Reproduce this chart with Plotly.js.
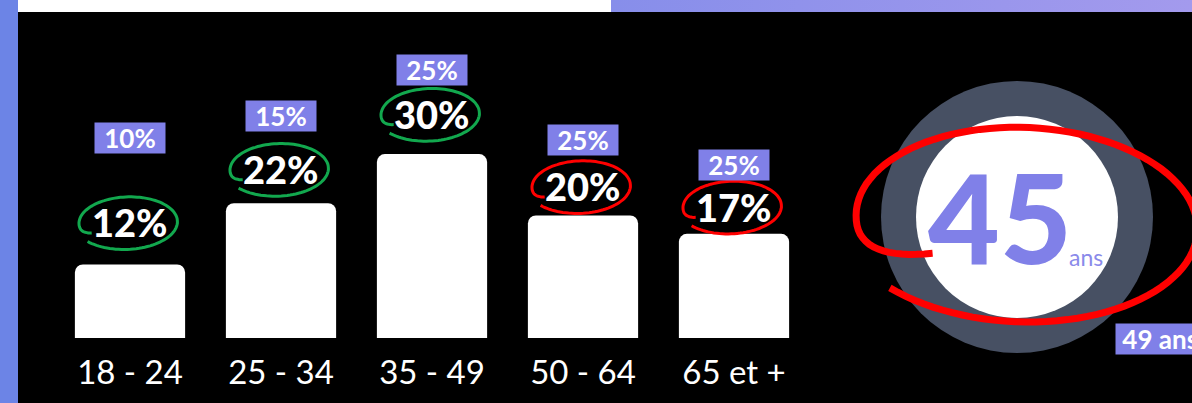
<!DOCTYPE html>
<html>
<head>
<meta charset="utf-8">
<script src="https://cdn.plot.ly/plotly-3.0.1.min.js"></script>
<style>
  html, body { margin: 0; padding: 0; background: #000; }
  #chart { width: 1192px; height: 403px; }
</style>
</head>
<body>
<div id="chart"></div>
<script>
// ---- data ----
const categories = ['18 - 24', '25 - 34', '35 - 49', '50 - 64', '65 et +'];
const shares = [12, 22, 30, 20, 17];          // % of audience
const benchmark = [10, 15, 25, 25, 25];       // reference %
const averageAge = 45;
const benchmarkAge = 49;
const ageUnit = 'ans';

// ---- styling / layout helpers ----
const W = 1192, H = 403;
const labelLift = [42, 34, 40, 29, 27];       // px above bar top for value label
const boxLift = [126, 87, 84, 75, 69];        // px above bar top for benchmark box
const PURPLE = '#8080e8';
const GREEN = '#12a84e';
const RED = '#ff0000';
const FONT = 'Lato, "Open Sans", sans-serif';

function px2x(p) { return p / W; }
function px2y(p) { return 1 - p / H; }

// hand-drawn looking loop (pixel offsets, y up)
function loopPath(o) {
  const N = 110, pts = [];
  const rot = o.rot * Math.PI / 180;
  for (let i = 0; i <= N; i++) {
    const td = o.t0 + (o.t2 - o.t0) * i / N;
    const fMain = Math.min(1, (td - o.t0) / (o.t1 - o.t0));
    const r = o.r0 + (o.r1 - o.r0) * fMain;
    const yf = td > o.t1 ? 1 - (1 - o.tailY) * (td - o.t1) / (o.t2 - o.t1) : 1;
    const t = td * Math.PI / 180;
    const x = r * o.rx * Math.cos(t) + (o.dx || 0);
    const y = r * o.ry * yf * Math.sin(t);
    const xr = x * Math.cos(rot) - y * Math.sin(rot);
    const yr = x * Math.sin(rot) + y * Math.cos(rot) + (o.dy || 0);
    pts.push((i ? 'L' : 'M') + xr.toFixed(1) + ',' + yr.toFixed(1));
  }
  return pts.join(' ');
}

const bars = {
  type: 'bar',
  x: categories,
  y: shares,
  marker: { color: '#ffffff', cornerradius: 8, line: { width: 0 } },
  hoverinfo: 'none',
  showlegend: false
};

const annotations = [];
const shapes = [];

categories.forEach((c, i) => {
  const good = shares[i] >= benchmark[i];
  annotations.push({
    x: c, y: shares[i], xref: 'x', yref: 'y',
    yshift: labelLift[i], yanchor: 'middle', xanchor: 'center',
    text: shares[i] + '%', showarrow: false,
    font: { family: FONT, size: 38, color: '#ffffff', weight: 900 }
  });
  annotations.push({
    x: c, y: shares[i], xref: 'x', yref: 'y',
    yshift: boxLift[i], yanchor: 'middle', xanchor: 'center',
    text: benchmark[i] + '%', showarrow: false,
    width: 70, height: 30, bgcolor: PURPLE, borderpad: 0,
    font: { family: FONT, size: 26, color: '#ffffff', weight: 700 }
  });
  shapes.push({
    type: 'path', layer: 'above',
    xref: 'x', xsizemode: 'pixel', xanchor: c,
    yref: 'y', ysizemode: 'pixel', yanchor: shares[i],
    path: loopPath({ rx: 48, ry: 25, rot: 2, t0: 220, t1: 540, t2: 582, r0: 1.09, r1: 1.0, tailY: 0.55,
                     dx: -3, dy: labelLift[i] }),
    line: { color: good ? GREEN : RED, width: 3 }
  });
});

// frame decorations
shapes.unshift(
  { type: 'rect', xref: 'paper', yref: 'paper', x0: 0, x1: px2x(18), y0: 0, y1: 1,
    fillcolor: '#6c84e6', line: { width: 0 }, layer: 'below' },
  { type: 'rect', xref: 'paper', yref: 'paper', x0: px2x(18), x1: px2x(611), y0: px2y(12), y1: 1,
    fillcolor: '#ffffff', line: { width: 0 }, layer: 'below' }
);

// average-age donut
const CX = px2x(1017), CY = px2y(217);
shapes.push(
  { type: 'circle', xref: 'paper', yref: 'paper', xsizemode: 'pixel', ysizemode: 'pixel',
    xanchor: CX, yanchor: CY, x0: -136, x1: 136, y0: -136, y1: 136,
    fillcolor: '#475063', line: { width: 0 }, layer: 'below' },
  { type: 'circle', xref: 'paper', yref: 'paper', xsizemode: 'pixel', ysizemode: 'pixel',
    xanchor: CX, yanchor: CY, x0: -101, x1: 101, y0: -101, y1: 101,
    fillcolor: '#ffffff', line: { width: 0 }, layer: 'below' },
  { type: 'path', xref: 'paper', yref: 'paper', xsizemode: 'pixel', ysizemode: 'pixel',
    xanchor: px2x(1022), yanchor: px2y(222),
    path: loopPath({ rx: 166, ry: 92, rot: -2.5, t0: 225, t1: 540, t2: 598, r0: 1.1, r1: 1.0, tailY: 0.45 }),
    line: { color: averageAge <= benchmarkAge ? RED : GREEN, width: 7 }, layer: 'above' }
);

annotations.push(
  { xref: 'paper', yref: 'paper', x: px2x(1000), y: px2y(216), xanchor: 'center', yanchor: 'middle',
    text: String(averageAge), showarrow: false,
    font: { family: FONT, size: 124, color: PURPLE, weight: 900 } },
  { xref: 'paper', yref: 'paper', x: px2x(1067), y: px2y(257), xanchor: 'left', yanchor: 'middle',
    text: ageUnit, showarrow: false,
    font: { family: FONT, size: 23, color: '#8a8aea' } },
  { xref: 'paper', yref: 'paper', x: px2x(1115), y: px2y(339), xanchor: 'left', yanchor: 'middle',
    text: '\u00a0' + benchmarkAge + ' ' + ageUnit + '\u00a0\u00a0', showarrow: false,
    bgcolor: PURPLE, borderpad: 0, height: 30, align: 'left',
    font: { family: FONT, size: 26, color: '#ffffff', weight: 700 } }
);

const gradSvg = '<svg xmlns="http://www.w3.org/2000/svg" width="100" height="10" preserveAspectRatio="none">' +
  '<defs><linearGradient id="g" x1="0" x2="1" y1="0" y2="0">' +
  '<stop offset="0" stop-color="#878eea"/><stop offset="1" stop-color="#a39aed"/></linearGradient></defs>' +
  '<rect width="100" height="10" fill="url(#g)"/></svg>';

const layout = {
  width: W, height: H,
  margin: { l: 0, r: 0, t: 0, b: 0 },
  paper_bgcolor: '#000000', plot_bgcolor: 'rgba(0,0,0,0)',
  bargap: 0.27,
  showlegend: false,
  xaxis: {
    domain: [54.5 / W, 809.5 / W],
    type: 'category', range: [-0.5, 4.5],
    showgrid: false, zeroline: false, showline: false, ticks: '',
    ticklabelstandoff: 12,
    tickfont: { family: FONT, size: 33, color: '#ffffff' },
    automargin: false, fixedrange: true
  },
  yaxis: {
    domain: [(H - 338) / H, (H - 31.5) / H],
    range: [0, 50], visible: false, fixedrange: true
  },
  shapes: shapes,
  annotations: annotations,
  images: [{
    source: 'data:image/svg+xml;charset=utf-8,' + encodeURIComponent(gradSvg),
    xref: 'paper', yref: 'paper', x: px2x(611), y: 1, sizex: 1 - px2x(611), sizey: 12 / H,
    xanchor: 'left', yanchor: 'top', sizing: 'stretch', layer: 'below'
  }]
};

Plotly.newPlot('chart', [bars], layout, { staticPlot: true, displayModeBar: false });
</script>
</body>
</html>
